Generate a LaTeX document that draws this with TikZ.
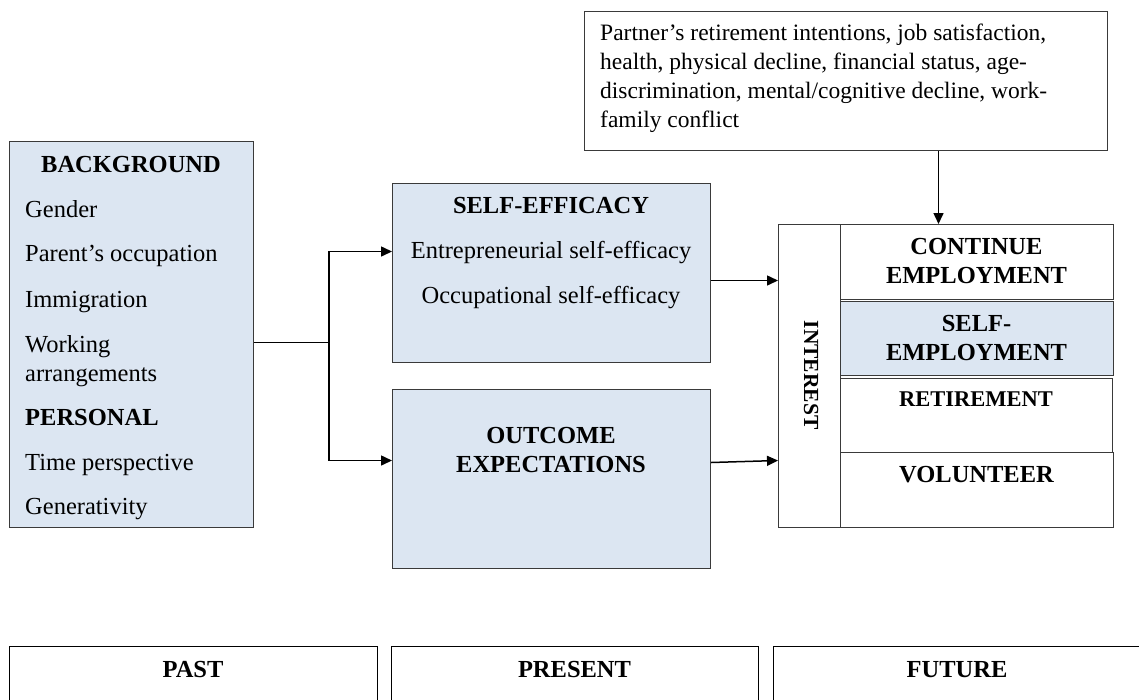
\documentclass[tikz,border=0pt]{standalone}
\usepackage{fontspec}
\setmainfont{Liberation Serif}
\usetikzlibrary{arrows.meta}
\definecolor{paleblue}{HTML}{DCE6F2}
\definecolor{edgegray}{HTML}{3A3A3A}
\begin{document}
\begin{tikzpicture}[x=1pt,y=-1pt,
  frame/.style={draw=edgegray, line width=1pt, inner sep=0pt, anchor=north west},
  bluebox/.style={frame, fill=paleblue},
  timebox/.style={frame, draw=black, line width=1.2pt},
  txt/.style={inner sep=0pt, font=\fontsize{24.5}{29}\selectfont},
  ctxtxt/.style={inner sep=0pt, anchor=base west, font=\fontsize{23.5}{29}\selectfont},
  head/.style={inner sep=0pt, font=\fontsize{24.5}{29}\selectfont\bfseries},
  arr/.style={line width=1.5pt, -{Triangle[length=11pt,width=10pt]}},
  link/.style={line width=1pt}]
\useasboundingbox (0,0) rectangle (1139,699);
\clip (0,0) rectangle (1139,699);

% boxes
\node[frame, minimum width=523pt, minimum height=139pt] (ctx) at (584,11) {};
\node[bluebox, minimum width=244pt, minimum height=386pt] (bg) at (9,141) {};
\node[bluebox, minimum width=318pt, minimum height=179pt] (se) at (392,183) {};
\node[bluebox, minimum width=318pt, minimum height=179pt] (oe) at (392,389) {};
\node[frame, minimum width=62pt, minimum height=303pt] (int) at (778,224) {};
\node[frame, minimum width=273pt, minimum height=75pt] (ce) at (840,224) {};
\node[bluebox, minimum width=273pt, minimum height=74pt] (sem) at (840,301) {};
\node[frame, minimum width=272pt, minimum height=74pt] (ret) at (840,378) {};
\node[frame, minimum width=273pt, minimum height=75pt] (vol) at (840,452) {};
\node[timebox, minimum width=368pt, minimum height=90pt] (past) at (9,646) {};
\node[timebox, minimum width=367pt, minimum height=90pt] (present) at (391,646) {};
\node[timebox, minimum width=368pt, minimum height=90pt] (future) at (773,646) {};

% context factors
\node[ctxtxt] (c1) at (600,40) {Partner’s retirement intentions, job satisfaction,};
\node[ctxtxt] (c2) at (600,69) {health, physical decline, financial status, age-};
\node[ctxtxt] (c3) at (600,98) {discrimination, mental/cognitive decline, work-};
\node[ctxtxt] (c4) at (600,127) {family conflict};

% background and personal
\node[head, anchor=base] (bgh) at (131,172) {BACKGROUND};
\node[txt, anchor=base west] (b1) at (25,217) {Gender};
\node[txt, anchor=base west] (b2) at (25,261) {Parent’s occupation};
\node[txt, anchor=base west] (b3) at (25,307) {Immigration};
\node[txt, anchor=base west] (b4) at (25,352) {Working};
\node[txt, anchor=base west] (b5) at (25,381) {arrangements};
\node[head, anchor=base west] (peh) at (25,425) {PERSONAL};
\node[txt, anchor=base west] (p1) at (25,470) {Time perspective};
\node[txt, anchor=base west] (p2) at (25,514) {Generativity};

% self-efficacy and outcome expectations
\node[head, anchor=base] (seh) at (551,213) {SELF-EFFICACY};
\node[txt, anchor=base] (s1) at (551,258) {Entrepreneurial self-efficacy};
\node[txt, anchor=base] (s2) at (551,303) {Occupational self-efficacy};
\node[head, anchor=base] (oe1) at (551,443) {OUTCOME};
\node[head, anchor=base] (oe2) at (551,472) {EXPECTATIONS};

% interest and choices
\node[head, font=\fontsize{21.5}{26}\selectfont\bfseries, rotate=-90] (inth) at (811,375) {INTEREST};
\node[head, anchor=base] (ce1) at (976.5,254) {CONTINUE};
\node[head, anchor=base] (ce2) at (976.5,283) {EMPLOYMENT};
\node[head, anchor=base] (sm1) at (976.5,331) {SELF-};
\node[head, anchor=base] (sm2) at (976.5,360) {EMPLOYMENT};
\node[head, anchor=base, font=\fontsize{22.5}{27}\selectfont\bfseries] (rt) at (976,406) {RETIREMENT};
\node[head, anchor=base] (vl) at (976.5,482) {VOLUNTEER};

% time frame
\node[head, anchor=base] (pa) at (193,677) {PAST};
\node[head, anchor=base] (pr) at (574.5,677) {PRESENT};
\node[head, anchor=base] (fu) at (957,677) {FUTURE};

% connectors
\coordinate (j) at ([xshift=75pt,yshift=-8pt]bg.east);
\draw[link] ([yshift=-8pt]bg.east) -- (j);
\draw[arr] (j) |- ([yshift=21.5pt]se.west);
\draw[arr] (j) |- ([yshift=18.5pt]oe.west);
\draw[arr] ([yshift=-7.5pt]se.east) -- ([yshift=95.5pt]int.west);
\draw[arr] ([yshift=16.5pt]oe.east) -- ([yshift=-84.5pt]int.west);
\draw[arr] ([xshift=92.5pt]ctx.south) -- ([xshift=-38.5pt]ce.north);
\end{tikzpicture}
\end{document}
